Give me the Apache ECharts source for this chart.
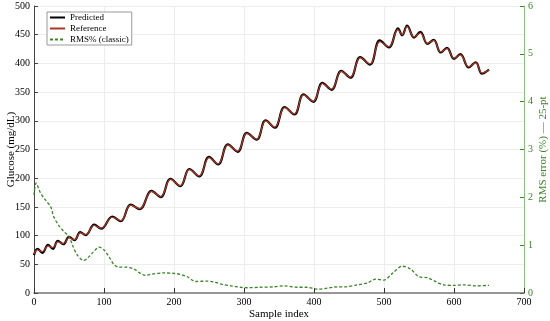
<!DOCTYPE html>
<html>
<head>
<meta charset="utf-8">
<script src="https://cdn.jsdelivr.net/npm/echarts@6/dist/echarts.min.js"></script>
<style>
  html, body { margin: 0; padding: 0; background: #fff; }
  #chart { width: 550px; height: 321px; }
</style>
</head>
<body>
<div id="chart"></div>
<script>
// sample index of each read-off point (peaks / troughs of the wave)
const refX = [0, 5, 12, 20, 27, 34, 42, 50, 58, 66, 74, 86, 96, 112, 124, 138, 151, 168, 181,
  195, 209, 222, 236, 250, 263, 277, 291, 304, 318, 331, 344, 358, 372, 385, 399, 412, 425,
  439, 452, 466, 480, 494, 507, 520, 526, 533, 543, 552, 562, 571, 581, 590, 600, 609, 621,
  631, 640, 650];
const refY = [68, 75, 72, 82, 79, 89, 86, 96, 93, 105, 102, 118, 113, 132, 126, 153, 147, 177, 168,
  198, 187, 215, 204, 236, 225, 258, 247, 278, 268, 300, 289, 323, 312, 345, 334, 365, 355,
  386, 376, 410, 399, 438, 429, 459, 450, 464, 446, 453, 435, 440, 420, 426, 409, 415, 394,
  401, 383, 388];
const predY = [66, 77, 70, 84, 77, 91, 85, 98, 92, 106, 101, 119, 112, 133, 125, 154, 146, 178, 167,
  199, 186, 216, 203, 237, 224, 259, 246, 279, 267, 301, 288, 324, 311, 346, 333, 366, 354,
  387, 375, 411, 398, 440, 428, 461, 449, 466, 445, 455, 434, 441, 419, 427, 408, 416, 393,
  402, 382, 389];

const rmsX = [0, 3, 9, 16, 24, 28, 35, 43, 50, 55, 62, 71, 78, 85, 93, 100, 107, 114, 121, 131,
  143, 152, 159, 166, 185, 200, 209, 219, 231, 247, 257, 269, 281, 295, 305, 323, 343, 357,
  376, 390, 405, 419, 433, 443, 462, 476, 488, 500, 512, 526, 538, 550, 562, 571, 585, 600,
  614, 633, 650];
const rmsY = [2.05, 2.3, 2.1, 1.95, 1.8, 1.6, 1.42, 1.28, 1.18, 1.0, 0.79, 0.68, 0.75, 0.86, 0.96,
  0.9, 0.76, 0.6, 0.54, 0.54, 0.5, 0.41, 0.37, 0.39, 0.42, 0.41, 0.39, 0.34, 0.24, 0.25, 0.23,
  0.18, 0.15, 0.12, 0.11, 0.12, 0.13, 0.15, 0.12, 0.12, 0.08, 0.1, 0.13, 0.13, 0.17, 0.21, 0.29,
  0.27, 0.41, 0.56, 0.5, 0.34, 0.32, 0.26, 0.17, 0.16, 0.17, 0.15, 0.16];

const FONT = 'Liberation Serif';
const GREEN = '#3b8229';

const pairs = (xs, ys) => xs.map((x, i) => [x, ys[i]]);

const chart = echarts.init(document.getElementById('chart'));

chart.setOption({
  animation: false,
  textStyle: { fontFamily: FONT },
  grid: { left: 34, right: 26, top: 6, bottom: 28, outerBoundsMode: 'none', containLabel: false },
  legend: {
    left: 47,
    top: 12,
    orient: 'vertical',
    itemWidth: 15,
    itemHeight: 9,
    itemGap: 2,
    padding: [1, 3, 1, 2],
    borderColor: '#999',
    borderWidth: 1,
    backgroundColor: '#fff',
    itemStyle: { opacity: 0 },
    textStyle: { fontFamily: FONT, fontSize: 9, color: '#000' },
    data: ['Predicted', 'Reference', 'RMS% (classic)']
  },
  xAxis: {
    type: 'value',
    min: 0,
    max: 700,
    interval: 100,
    name: 'Sample index',
    nameLocation: 'middle',
    nameGap: 16,
    nameMoveOverlap: false,
    nameTextStyle: { fontFamily: FONT, fontSize: 11, color: '#000' },
    axisLine: { lineStyle: { color: '#777', width: 1.5 } },
    axisTick: { inside: true, length: 5, lineStyle: { color: '#333' } },
    axisLabel: { fontFamily: FONT, fontSize: 10, color: '#000', margin: 4 },
    splitLine: { show: true, lineStyle: { color: '#ececec' } }
  },
  yAxis: [
    {
      type: 'value',
      min: 0,
      max: 500,
      interval: 50,
      name: 'Glucose (mg/dL)',
      nameLocation: 'middle',
      nameGap: 17,
      nameRotate: 90,
      nameMoveOverlap: false,
      nameTextStyle: { fontFamily: FONT, fontSize: 11, color: '#000' },
      axisLine: { show: true, lineStyle: { color: '#444' } },
      axisTick: { show: true, inside: true, length: 4, lineStyle: { color: '#444' } },
      axisLabel: { fontFamily: FONT, fontSize: 10, color: '#000', margin: 4 },
      splitLine: { show: true, lineStyle: { color: '#ececec' } }
    },
    {
      type: 'value',
      position: 'right',
      min: 0,
      max: 6,
      interval: 1,
      name: 'RMS error (%) — 25-pt',
      nameLocation: 'middle',
      nameGap: 14,
      nameRotate: 90,
      nameMoveOverlap: false,
      nameTextStyle: { fontFamily: FONT, fontSize: 11, color: GREEN },
      axisLine: { show: true, lineStyle: { color: '#8fbf80' } },
      axisTick: { show: true, inside: true, length: 4, lineStyle: { color: GREEN } },
      axisLabel: { fontFamily: FONT, fontSize: 10, color: GREEN, margin: 4 },
      splitLine: { show: false }
    }
  ],
  series: [
    {
      name: 'Predicted',
      type: 'line',
      data: pairs(refX, predY),
      smooth: 0.4,
      symbol: 'none',
      lineStyle: { color: '#000', width: 2.2 },
      itemStyle: { color: '#000' },
      z: 2
    },
    {
      name: 'Reference',
      type: 'line',
      data: pairs(refX, refY),
      smooth: 0.4,
      symbol: 'none',
      lineStyle: { color: '#ab3826', width: 1.2 },
      itemStyle: { color: '#ab3826' },
      z: 3
    },
    {
      name: 'RMS% (classic)',
      type: 'line',
      yAxisIndex: 1,
      data: pairs(rmsX, rmsY),
      smooth: 0.3,
      symbol: 'none',
      lineStyle: { color: GREEN, width: 1.3, type: [3, 2] },
      itemStyle: { color: GREEN },
      z: 4
    }
  ]
});
</script>
</body>
</html>
